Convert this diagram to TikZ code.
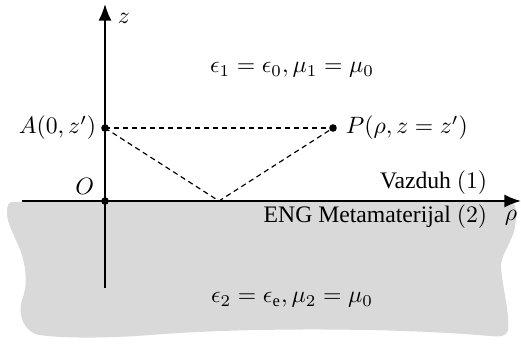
\documentclass[tikz,border=0pt]{standalone}
\usepackage{fontspec}
\setmainfont{Liberation Serif}
\usetikzlibrary{arrows.meta}
\begin{document}
\begin{tikzpicture}[x=0.4225pt,y=-0.4225pt,
  axis/.style={line width=0.8pt,-{Latex[length=7pt,width=5.5pt]}},
  ray/.style={dash pattern=on 2.2pt off 1.6pt,line width=0.5pt},
  pt/.style={circle,fill=black,inner sep=0pt,minimum size=3.2pt},
  lbl/.style={inner sep=1pt}]
\useasboundingbox (0,0) rectangle (521,347);
% gray region
\fill[gray!30] (12,202) -- (513,202)
  .. controls (518,210) and (516,222) .. (514,232)
  .. controls (508,248) and (500,258) .. (501,268)
  .. controls (503,290) and (510,315) .. (508,330)
  .. controls (506,337) and (500,337) .. (490,336)
  .. controls (400,328) and (250,327) .. (150,335)
  .. controls (100,339) and (50,338) .. (35,334)
  .. controls (22,328) and (18,312) .. (22,300)
  .. controls (28,285) and (26,270) .. (22,255)
  .. controls (16,238) and (6,222) .. (7,212)
  .. controls (7,205) and (9,202) .. (12,202) -- cycle;
% points
\coordinate (O) at (105,201);
\coordinate (zb) at (105,288);
\coordinate (zt) at (105,4);
\coordinate (xl) at (22,201);
\coordinate (xr) at (521,201);
\coordinate (R) at (219,201);
\node[pt] (A) at (105,128) {};
\node[pt] (P) at (333,128) {};
\node[pt] (Od) at (O) {};
% axes
\draw[axis] (zb) -- (zt);
\draw[axis] (xl) -- (xr);
% rays
\draw[ray] (A.center) -- (P.center);
\draw[ray] (A.center) -- (R) -- (P.center);
% labels
\node[lbl,anchor=west] (zl) at (115,18) {$z$};
\node[lbl] (e1) at (292,70) {$\epsilon_1=\epsilon_0,\mu_1=\mu_0$};
\node[lbl,anchor=east] (Al) at (99,128) {$A(0,z')$};
\node[lbl,anchor=west] (Pl) at (343,128) {$P(\rho,z=z')$};
\node[lbl,anchor=east] (Ol) at (97,186) {$O$};
\node[lbl,anchor=east] (vz) at (490,183) {Vazduh $(1)$};
\node[lbl,anchor=east] (eng) at (490,217) {ENG Metamaterijal $(2)$};
\node[lbl] (rl) at (511,218) {$\rho$};
\node[lbl] (e2) at (292,300) {$\epsilon_2=\epsilon_{\mathrm{e}},\mu_2=\mu_0$};
\end{tikzpicture}
\end{document}
